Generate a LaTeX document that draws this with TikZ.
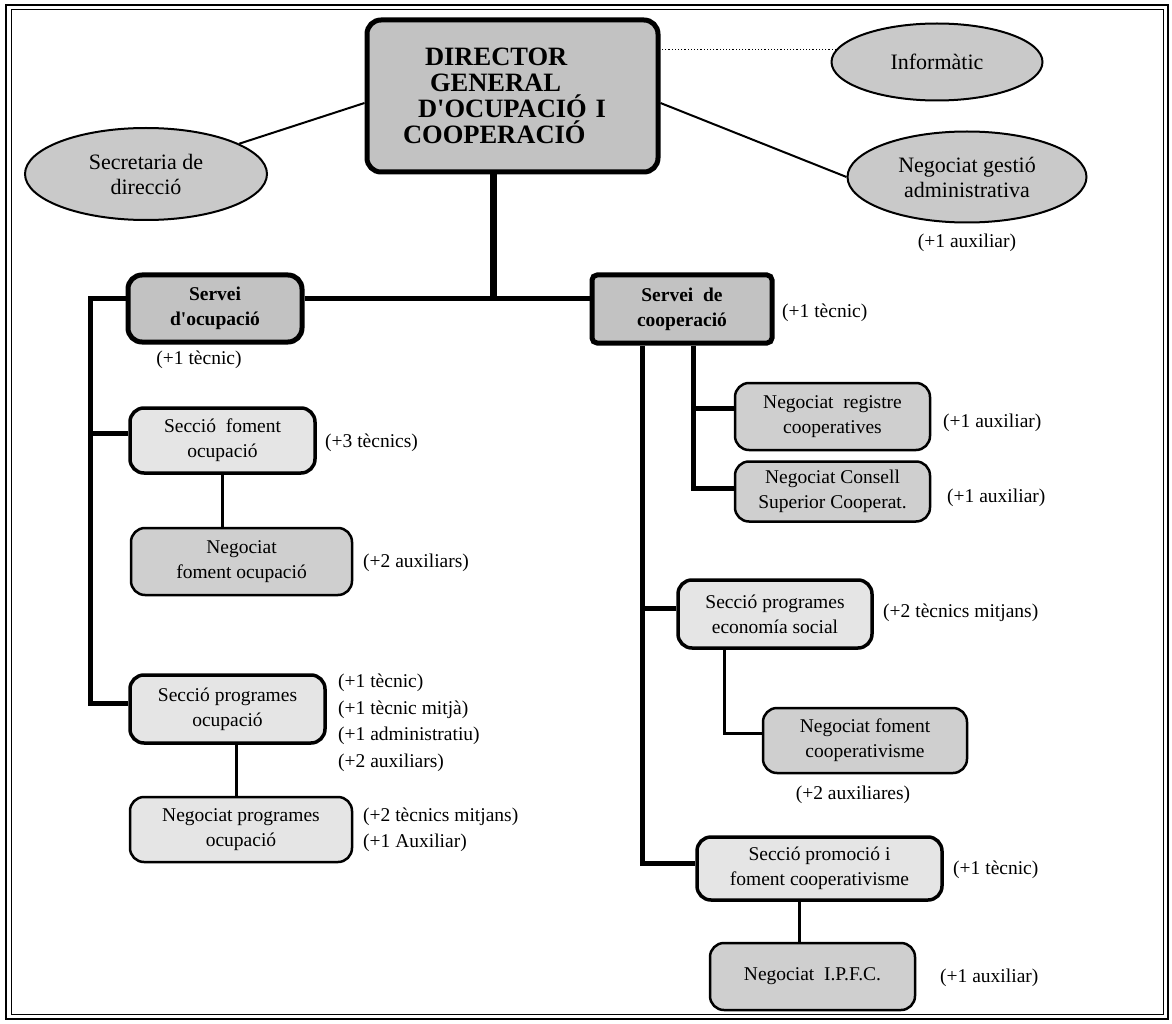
\documentclass[tikz,border=0pt]{standalone}
\usepackage{fontspec}
\setmainfont{Liberation Serif}
\usetikzlibrary{shapes.geometric}
\begin{document}
\begin{tikzpicture}[x=1pt,y=-1pt,
 box/.style={draw=black, rounded corners=14pt, inner sep=0pt, align=center, font=\fontsize{19.5}{25}\selectfont},
 srvbox/.style={box, line width=5pt, fill=black!24, font=\fontsize{19.5}{25}\selectfont\bfseries},
 secbox/.style={box, line width=3.5pt, fill=black!10},
 negbox/.style={box, line width=2.5pt, fill=black!19},
 ellbox/.style={draw=black, ellipse, line width=2pt, fill=black!21, inner sep=0pt, align=center, font=\fontsize{22}{25}\selectfont},
 lab/.style={inner sep=0pt, align=left, font=\fontsize{19.5}{26.5}\selectfont},
 mainline/.style={line width=5pt},
 subline/.style={line width=3pt},
 thinline/.style={line width=2pt}]
\useasboundingbox (0,0) rectangle (1172,1024);
% frame
\draw[line width=2.5pt] (6,5) rectangle (1168,1019);
\draw[line width=1pt] (11,10) rectangle (1163,1014);

% top
\node[srvbox, align=left, minimum width=291pt, minimum height=152pt, text width=250pt,
      font=\fontsize{26.5}{26}\selectfont\bfseries] (dir) at (512.5,96)
  {\hspace*{37.5pt}DIRECTOR\\\hspace*{42.5pt}GENERAL\\\hspace*{30.5pt}D\textquotesingle OCUPACIÓ I\\\hspace*{15.5pt}COOPERACIÓ};
\node[ellbox, minimum width=242pt, minimum height=92pt] (sec) at (146,174) {Secretaria de\\direcció};
\node[ellbox, minimum width=211pt, minimum height=77pt] (inf) at (937,62) {Informàtic};
\node[ellbox, minimum width=239pt, minimum height=91pt] (nga) at (967,177) {Negociat gestió\\administrativa};

% services
\node[srvbox, minimum width=174pt, minimum height=67pt] (sdo) at (215,308.5) {Servei\\d\textquotesingle ocupació};
\node[srvbox, rounded corners=5pt, minimum width=180pt, minimum height=68pt] (sdc) at (682,309) {Servei\ \ de\\cooperació};

% left branch
\node[secbox, minimum width=185pt, minimum height=65pt] (sfo) at (222.5,440.5) {Secció\ \ foment\\ocupació};
\node[negbox, minimum width=221pt, minimum height=67pt] (nfo) at (241.5,561.5) {Negociat\\foment ocupació};
\node[secbox, minimum width=195pt, minimum height=68pt] (spo) at (227.5,709) {Secció programes\\ocupació};
\node[negbox, fill=black!10, minimum width=222pt, minimum height=65pt] (npo) at (241,829.5) {Negociat programes\\ocupació};

% right branch
\node[negbox, minimum width=195pt, minimum height=67pt] (nrc) at (832.5,416.5) {Negociat\ \ registre\\cooperatives};
\node[negbox, minimum width=195pt, minimum height=60pt] (ncs) at (832.5,491.5) {Negociat Consell\\Superior Cooperat.};
\node[secbox, minimum width=194pt, minimum height=68pt] (spe) at (775,614) {Secció programes\\economía social};
\node[negbox, minimum width=204pt, minimum height=65pt] (nfc) at (865,740.5) {Negociat foment\\cooperativisme};
\node[secbox, minimum width=245pt, minimum height=63pt] (spf) at (819.5,868.5) {Secció promoció i\\foment cooperativisme};
\node[negbox, minimum width=205pt, minimum height=67pt] (nip) at (812.5,976.5) {Negociat\ \ I.P.F.C.};

% labels
\node[lab] (lnga) at (967,243) {(+1 auxiliar)};
\node[lab] (lsdo) at (199,360) {(+1 tècnic)};
\node[lab, anchor=west] (lsfo) at (325,443) {(+3 tècnics)};
\node[lab, anchor=west] (lnfo) at (363,563) {(+2 auxiliars)};
\node[lab, anchor=west] (lspo) at (338,723) {(+1 tècnic)\\(+1 tècnic mitjà)\\(+1 administratiu)\\(+2 auxiliars)};
\node[lab, anchor=west] (lnpo) at (363,830) {(+2 tècnics mitjans)\\(+1 Auxiliar)};
\node[lab, anchor=west] (lsdc) at (782,313) {(+1 tècnic)};
\node[lab, anchor=west] (lnrc) at (943,423) {(+1 auxiliar)};
\node[lab, anchor=west] (lncs) at (947,498) {(+1 auxiliar)};
\node[lab, anchor=west] (lspe) at (883,613) {(+2 tècnics mitjans)};
\node[lab] (lnfc) at (853,795) {(+2 auxiliares)};
\node[lab, anchor=west] (lspf) at (953,870) {(+1 tècnic)};
\node[lab, anchor=west] (lnip) at (940,978) {(+1 auxiliar)};

% connectors
\coordinate (j) at (493,298);
\draw[line width=7pt] (j |- dir.south) -- (j);
\draw[mainline] (sdo.east |- j) -- (sdc.west |- j);
\draw[thinline] (sec) -- ([yshift=-7pt]dir.west);
\draw[thinline] ([yshift=-7pt]dir.east) -- (nga.west);
\draw[line width=1.2pt, dotted] (inf.173) -- (dir.east |- inf.173);

\coordinate (l1) at (90,298);
\coordinate (l2) at (90,433);
\coordinate (l3) at (90,703);
\draw[mainline] (sdo.west |- l1) -- (l1) -- (l3) -- (spo.west |- l3);
\draw[mainline] (l2) -- (sfo.west |- l2);
\draw[subline] (sfo.south) -- (sfo.south |- nfo.north);
\draw[subline] ([xshift=8.5pt]spo.south) -- ([xshift=8.5pt]spo.south |- npo.north);

\coordinate (ra) at (642,608);
\coordinate (rb) at (642,863);
\coordinate (rc) at (693,408);
\coordinate (rd) at (693,488);
\draw[mainline] (ra |- sdc.south) -- (rb) -- (spf.west |- rb);
\draw[mainline] (ra) -- (spe.west |- ra);
\draw[mainline] (rc |- sdc.south) -- (rd) -- (ncs.west |- rd);
\draw[mainline] (rc) -- (nrc.west |- rc);
\coordinate (re) at (724,733);
\draw[subline] (re |- spe.south) -- (re) -- (nfc.west |- re);
\coordinate (rf) at (799,900);
\draw[subline] (rf |- spf.south) -- (rf |- nip.north);
\end{tikzpicture}
\end{document}
